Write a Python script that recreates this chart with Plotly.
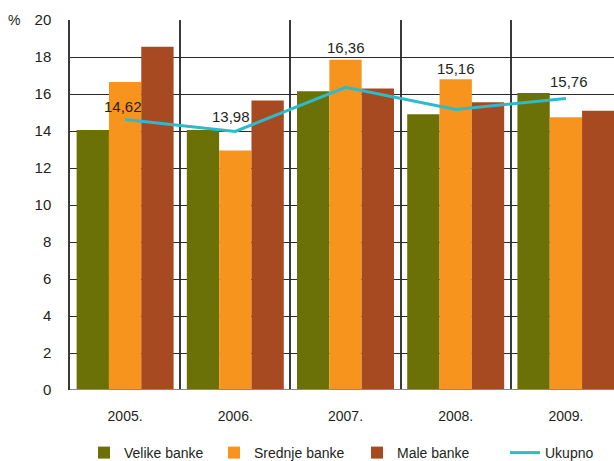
import plotly.graph_objects as go

years = ["2005.", "2006.", "2007.", "2008.", "2009."]
velike = [14.05, 14.05, 16.15, 14.9, 16.05]
srednje = [16.65, 12.95, 17.85, 16.8, 14.75]
male = [18.55, 15.65, 16.3, 15.55, 15.1]
ukupno = [14.62, 13.98, 16.36, 15.16, 15.76]
ukupno_labels = ["14,62", "13,98", "16,36", "15,16", "15,76"]
y_ticks = [0, 2, 4, 6, 8, 10, 12, 14, 16, 18, 20]

FONT = "Liberation Sans, Arial, sans-serif"
TXT = "#231F20"
W, H = 614, 461
xpos = list(range(len(years)))

fig = go.Figure()
fig.add_trace(go.Bar(x=xpos, y=velike, name="Velike banke", marker_color="#6B7106",
                     marker_line_width=0, legend="legend"))
fig.add_trace(go.Bar(x=xpos, y=srednje, name="Srednje banke", marker_color="#F7941E",
                     marker_line_width=0, legend="legend2"))
fig.add_trace(go.Bar(x=xpos, y=male, name="Male banke", marker_color="#A84A21",
                     marker_line_width=0, legend="legend3"))
fig.add_trace(go.Scatter(x=xpos, y=ukupno, name="Ukupno", mode="lines",
                         line=dict(color="#2BBBCB", width=3),
                         legend="legend4"))

def leg(xpix):
    return dict(x=xpix / W, xref="container", xanchor="left",
                y=1 - 453 / H, yref="container", yanchor="middle",
                orientation="h", bgcolor="rgba(0,0,0,0)",
                borderwidth=0, tracegroupgap=0, itemwidth=30,
                font=dict(family=FONT, size=14, color=TXT))

# label placement offsets (pixels) relative to each line point
label_dy = [13, 15, 40, 41, 17]
label_dx = [-2, -4, 0, 0, 3]
label_annots = [dict(x=xv, y=yv, text=t, xref="x", yref="y", showarrow=False,
                     xanchor="center", yanchor="middle", yshift=dy, xshift=dx,
                     font=dict(family=FONT, size=15, color=TXT))
                for xv, yv, t, dy, dx in zip(xpos, ukupno, ukupno_labels, label_dy, label_dx)]

fig.update_layout(
    width=W, height=H,
    margin=dict(l=70, r=0, t=20, b=71, autoexpand=False),
    paper_bgcolor="white", plot_bgcolor="white",
    barmode="group", bargap=0.12, bargroupgap=0,
    font=dict(family=FONT, size=14, color=TXT),
    showlegend=True,
    legend=leg(84), legend2=leg(214), legend3=leg(357), legend4=leg(505),
    xaxis=dict(range=[-0.5, 4.4365], tickvals=xpos, ticktext=years,
               showgrid=False, zeroline=False, showline=False,
               ticks="", ticklabelstandoff=16, automargin=False,
               tickfont=dict(family=FONT, size=14, color=TXT),
               minor=dict(tick0=0.5, dtick=1, showgrid=True,
                          gridcolor="#3a3a3a", gridwidth=1.5, ticks="")),
    yaxis=dict(range=[0, 20], tickvals=y_ticks, showgrid=True,
               gridcolor="#2a2a2a", gridwidth=1, zeroline=False,
               showline=True, linecolor="#3a3a3a", linewidth=1.5,
               ticks="", ticklabelstandoff=14, automargin=False,
               tickfont=dict(family=FONT, size=15, color=TXT)),
    annotations=[dict(text="%", xref="paper", yref="paper",
                      x=(14 - 70) / 544, y=1, xanchor="center", yanchor="middle",
                      showarrow=False, font=dict(family=FONT, size=14, color=TXT))]
                + label_annots,
    shapes=[dict(type="line", xref="paper", yref="y", x0=0, x1=1, y0=0, y1=0,
                 line=dict(color="#8a8a8a", width=2))],
)

fig.write_html("out.html", config={"displayModeBar": False})
with open("out.html", "r", encoding="utf-8") as f:
    html = f.read()
html = html.replace("<head>", "<head><style>html,body{margin:0;padding:0;overflow:hidden;}</style>", 1)
with open("out.html", "w", encoding="utf-8") as f:
    f.write(html)
